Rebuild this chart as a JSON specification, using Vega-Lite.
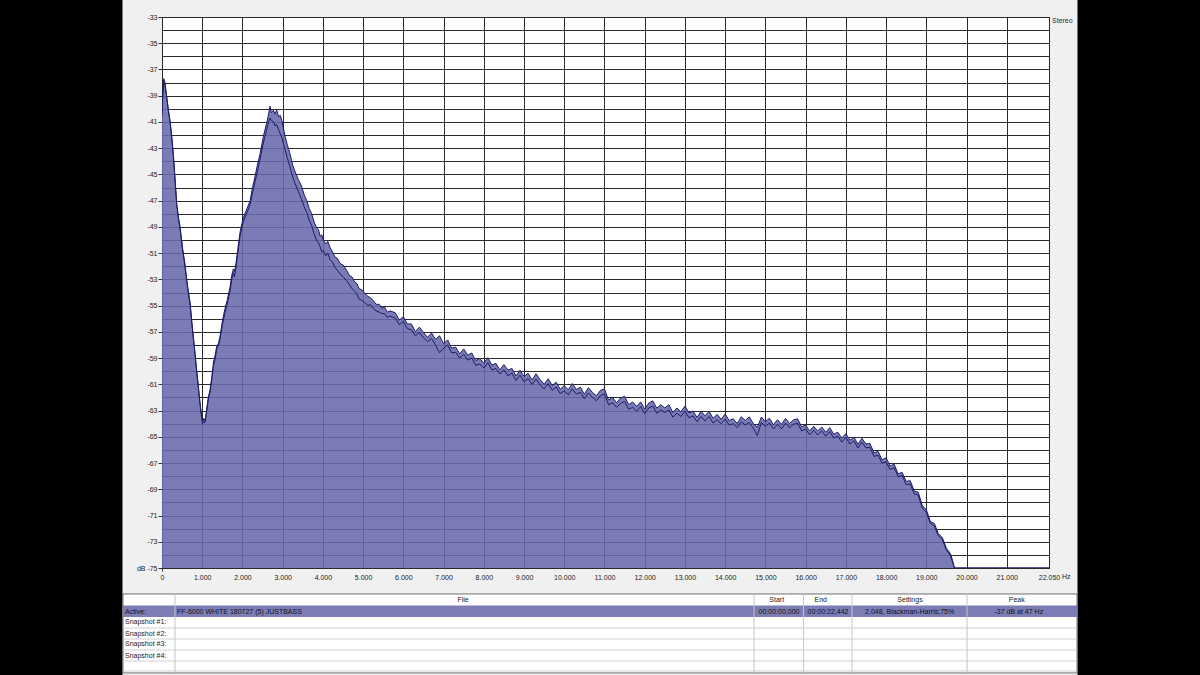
{
"$schema":"https://vega.github.io/schema/vega-lite/v6.json",
"width":887,"height":551,
"autosize":"none",
"padding":{"left":162,"top":17,"right":151,"bottom":107},
"background":"#f0f0f0",
"config":{"view":{"stroke":"#000000","strokeWidth":1,"fill":"#ffffff"},"text":{"font":"Liberation Sans"}},
"datasets":{"spec":[
{"f":0,"L":-40.3,"R":-40.5},{"f":20,"L":-38.8,"R":-39.0},{"f":43,"L":-37.7,"R":-38.0},{"f":70,"L":-37.9,"R":-38.1},{"f":110,"L":-38.9,"R":-39.0},{"f":160,"L":-40.1,"R":-40.2},{"f":200,"L":-40.9,"R":-41.0},{"f":240,"L":-42.0,"R":-42.2},{"f":280,"L":-43.4,"R":-43.5},{"f":320,"L":-45.1,"R":-45.3},{"f":365,"L":-47.2,"R":-47.3},{"f":410,"L":-48.3,"R":-48.4},{"f":450,"L":-49.0,"R":-49.2},{"f":510,"L":-50.6,"R":-50.7},{"f":570,"L":-51.8,"R":-52.0},{"f":630,"L":-53.4,"R":-53.5},{"f":700,"L":-54.8,"R":-55.0},{"f":740,"L":-56.2,"R":-56.3},{"f":780,"L":-57.4,"R":-57.5},{"f":820,"L":-58.6,"R":-58.7},{"f":860,"L":-59.9,"R":-60.0},{"f":900,"L":-61.0,"R":-61.2},{"f":945,"L":-62.4,"R":-62.5},{"f":980,"L":-63.3,"R":-63.4},{"f":1010,"L":-63.9,"R":-64.0},{"f":1040,"L":-63.6,"R":-63.9},{"f":1070,"L":-63.8,"R":-63.9},{"f":1110,"L":-62.9,"R":-63.1},{"f":1150,"L":-62.0,"R":-62.2},{"f":1195,"L":-61.4,"R":-61.6},{"f":1240,"L":-60.4,"R":-60.6},{"f":1280,"L":-59.3,"R":-59.6},{"f":1320,"L":-58.8,"R":-59.1},{"f":1360,"L":-58.1,"R":-58.3},{"f":1400,"L":-57.9,"R":-58.1},{"f":1440,"L":-57.4,"R":-57.6},{"f":1500,"L":-56.2,"R":-56.5},{"f":1560,"L":-55.3,"R":-55.6},{"f":1620,"L":-54.6,"R":-54.9},{"f":1690,"L":-53.6,"R":-53.9},{"f":1740,"L":-52.6,"R":-52.9},{"f":1775,"L":-52.2,"R":-52.5},{"f":1800,"L":-52.4,"R":-52.8},{"f":1830,"L":-52.0,"R":-52.3},{"f":1880,"L":-50.8,"R":-51.1},{"f":1940,"L":-49.4,"R":-49.7},{"f":2020,"L":-48.3,"R":-48.6},{"f":2100,"L":-47.7,"R":-48.0},{"f":2190,"L":-47.0,"R":-47.3},{"f":2250,"L":-46.0,"R":-46.4},{"f":2310,"L":-45.2,"R":-45.6},{"f":2370,"L":-44.3,"R":-44.8},{"f":2440,"L":-43.4,"R":-43.8},{"f":2520,"L":-42.1,"R":-42.6},{"f":2600,"L":-41.1,"R":-41.6},{"f":2650,"L":-40.4,"R":-41.0},{"f":2685,"L":-39.8,"R":-40.7},{"f":2720,"L":-40.3,"R":-40.9},{"f":2770,"L":-40.1,"R":-41.0},{"f":2810,"L":-40.4,"R":-41.3},{"f":2850,"L":-40.1,"R":-41.2},{"f":2900,"L":-40.6,"R":-41.6},{"f":2940,"L":-40.5,"R":-41.9},{"f":2980,"L":-40.9,"R":-42.2},{"f":3060,"L":-42.1,"R":-43.1},{"f":3120,"L":-42.8,"R":-43.8},{"f":3180,"L":-43.4,"R":-44.4},{"f":3250,"L":-44.3,"R":-45.2},{"f":3310,"L":-44.8,"R":-45.7},{"f":3390,"L":-45.4,"R":-46.3},{"f":3470,"L":-45.9,"R":-46.9},{"f":3540,"L":-46.6,"R":-47.5},{"f":3600,"L":-47.0,"R":-47.9},{"f":3660,"L":-47.6,"R":-48.5},{"f":3720,"L":-48.0,"R":-48.9},{"f":3790,"L":-48.7,"R":-49.6},{"f":3850,"L":-49.1,"R":-50.1},{"f":3890,"L":-49.2,"R":-50.2},{"f":3930,"L":-49.7,"R":-50.5},{"f":3970,"L":-49.6,"R":-50.9},{"f":4010,"L":-50.0,"R":-50.8},{"f":4070,"L":-50.3,"R":-51.2},{"f":4120,"L":-50.1,"R":-51.0},{"f":4180,"L":-50.6,"R":-51.5},{"f":4240,"L":-50.9,"R":-51.7},{"f":4300,"L":-51.3,"R":-52.1},{"f":4360,"L":-51.4,"R":-52.3},{"f":4430,"L":-51.8,"R":-52.6},{"f":4500,"L":-51.9,"R":-52.8},{"f":4590,"L":-52.3,"R":-53.1},{"f":4660,"L":-52.7,"R":-53.4},{"f":4720,"L":-52.8,"R":-53.7},{"f":4790,"L":-53.2,"R":-53.9},{"f":4840,"L":-53.3,"R":-54.1},{"f":4900,"L":-53.7,"R":-54.5},{"f":4970,"L":-53.8,"R":-54.6},{"f":5050,"L":-54.1,"R":-54.8},{"f":5120,"L":-54.3,"R":-55.0},{"f":5180,"L":-54.4,"R":-54.9},{"f":5250,"L":-54.6,"R":-55.2},{"f":5320,"L":-54.9,"R":-55.4},{"f":5400,"L":-54.9,"R":-55.5},{"f":5460,"L":-55.2,"R":-55.6},{"f":5530,"L":-55.1,"R":-55.6},{"f":5600,"L":-55.5,"R":-55.9},{"f":5670,"L":-55.4,"R":-55.8},
{"f":5800,"L":-55.55,"R":-55.95},{"f":5900,"L":-56.1,"R":-56.45},{"f":6000,"L":-55.85,"R":-56.2},{"f":6100,"L":-56.4,"R":-56.75},{"f":6200,"L":-56.4,"R":-56.85},{"f":6300,"L":-56.98,"R":-57.3},{"f":6400,"L":-56.64,"R":-57.05},{"f":6500,"L":-57.05,"R":-57.45},{"f":6600,"L":-57.42,"R":-57.75},{"f":6700,"L":-57.09,"R":-57.5},{"f":6800,"L":-57.57,"R":-58.0},{"f":6900,"L":-57.3,"R":-58.6},{"f":7000,"L":-57.9,"R":-58.25},{"f":7100,"L":-57.62,"R":-58.0},{"f":7200,"L":-58.24,"R":-58.6},{"f":7300,"L":-58.16,"R":-58.55},{"f":7400,"L":-58.68,"R":-59.0},{"f":7500,"L":-58.3,"R":-58.7},{"f":7600,"L":-58.78,"R":-59.15},{"f":7700,"L":-58.61,"R":-59.0},{"f":7800,"L":-59.19,"R":-59.55},{"f":7900,"L":-59.02,"R":-59.45},{"f":8000,"L":-59.4,"R":-59.75},{"f":8100,"L":-58.97,"R":-59.35},{"f":8200,"L":-59.54,"R":-59.9},{"f":8300,"L":-59.4,"R":-59.8},{"f":8400,"L":-59.9,"R":-60.2},{"f":8500,"L":-59.5,"R":-59.9},{"f":8600,"L":-59.92,"R":-60.35},{"f":8700,"L":-59.79,"R":-60.15},{"f":8800,"L":-60.36,"R":-60.7},{"f":8900,"L":-59.93,"R":-60.3},{"f":9000,"L":-60.4,"R":-60.8},{"f":9100,"L":-60.16,"R":-60.55},{"f":9200,"L":-60.67,"R":-61.0},{"f":9300,"L":-60.19,"R":-60.6},{"f":9400,"L":-60.65,"R":-61.05},{"f":9500,"L":-61.0,"R":-61.35},{"f":9600,"L":-60.57,"R":-60.95},{"f":9700,"L":-61.09,"R":-61.45},{"f":9800,"L":-60.84,"R":-61.2},{"f":9900,"L":-61.37,"R":-61.7},{"f":10000,"L":-61.1,"R":-61.5},{"f":10100,"L":-61.42,"R":-61.8},{"f":10200,"L":-60.94,"R":-61.35},{"f":10300,"L":-61.39,"R":-61.75},{"f":10400,"L":-61.22,"R":-61.6},{"f":10500,"L":-61.75,"R":-62.1},{"f":10600,"L":-61.26,"R":-61.65},{"f":10700,"L":-61.62,"R":-62.0},{"f":10800,"L":-61.87,"R":-62.25},{"f":10900,"L":-61.46,"R":-61.85},{"f":11000,"L":-61.35,"R":-61.75},{"f":11100,"L":-62.2,"R":-62.55},{"f":11200,"L":-62.0,"R":-62.4},{"f":11300,"L":-62.4,"R":-62.75},{"f":11400,"L":-62.05,"R":-62.45},{"f":11500,"L":-61.9,"R":-62.3},{"f":11600,"L":-62.55,"R":-62.9},{"f":11700,"L":-62.35,"R":-62.75},{"f":11800,"L":-62.68,"R":-63.05},{"f":11900,"L":-62.34,"R":-62.7},{"f":12000,"L":-62.9,"R":-63.25},{"f":12100,"L":-62.43,"R":-62.8},{"f":12200,"L":-62.26,"R":-62.65},{"f":12300,"L":-62.82,"R":-63.2},{"f":12400,"L":-62.56,"R":-62.95},{"f":12500,"L":-62.8,"R":-63.15},{"f":12600,"L":-62.55,"R":-62.95},{"f":12700,"L":-63.15,"R":-63.5},{"f":12800,"L":-62.8,"R":-63.2},{"f":12900,"L":-63.1,"R":-63.45},{"f":13000,"L":-62.65,"R":-63.05},{"f":13100,"L":-63.17,"R":-63.55},{"f":13200,"L":-63.04,"R":-63.4},{"f":13300,"L":-63.52,"R":-63.85},{"f":13400,"L":-63.06,"R":-63.45},{"f":13500,"L":-63.4,"R":-63.8},{"f":13600,"L":-63.07,"R":-63.45},{"f":13700,"L":-63.59,"R":-63.95},{"f":13800,"L":-63.29,"R":-63.7},{"f":13900,"L":-63.67,"R":-64.0},{"f":14000,"L":-63.25,"R":-63.65},{"f":14100,"L":-63.76,"R":-64.1},{"f":14200,"L":-63.62,"R":-64.0},{"f":14300,"L":-63.99,"R":-64.3},{"f":14400,"L":-63.47,"R":-63.85},{"f":14500,"L":-63.75,"R":-64.1},{"f":14600,"L":-63.48,"R":-63.9},{"f":14700,"L":-64.01,"R":-64.35},{"f":14800,"L":-64.28,"R":-64.9},{"f":14900,"L":-63.49,"R":-63.9},{"f":15000,"L":-63.85,"R":-64.2},{"f":15100,"L":-63.59,"R":-63.95},{"f":15200,"L":-64.08,"R":-64.4},{"f":15300,"L":-63.7,"R":-64.05},{"f":15400,"L":-64.05,"R":-64.4},{"f":15500,"L":-63.6,"R":-63.95},{"f":15600,"L":-63.98,"R":-64.3},{"f":15700,"L":-63.71,"R":-64.05},{"f":15800,"L":-63.63,"R":-63.95},{"f":15900,"L":-64.24,"R":-64.55},{"f":16000,"L":-64.1,"R":-64.4},{"f":16100,"L":-64.55,"R":-64.85},{"f":16200,"L":-64.2,"R":-64.5},{"f":16300,"L":-64.55,"R":-64.85},{"f":16400,"L":-64.25,"R":-64.55},{"f":16500,"L":-64.65,"R":-64.95},{"f":16600,"L":-64.3,"R":-64.6},{"f":16700,"L":-64.8,"R":-65.1},{"f":16800,"L":-64.65,"R":-64.95},{"f":16900,"L":-65.1,"R":-65.4},{"f":17000,"L":-64.75,"R":-65.05},{"f":17100,"L":-65.26,"R":-65.55},{"f":17200,"L":-65.02,"R":-65.3},{"f":17300,"L":-65.57,"R":-65.85},{"f":17400,"L":-65.11,"R":-65.4},{"f":17500,"L":-65.55,"R":-65.85},{"f":17600,"L":-65.51,"R":-65.8},{"f":17700,"L":-66.22,"R":-66.5},{"f":17800,"L":-66.1,"R":-66.4},{"f":17900,"L":-66.75,"R":-67.0},{"f":18000,"L":-66.6,"R":-66.9},{"f":18100,"L":-67.22,"R":-67.5},{"f":18200,"L":-67.09,"R":-67.35},{"f":18300,"L":-67.82,"R":-68.05},{"f":18400,"L":-67.71,"R":-67.95},{"f":18500,"L":-68.4,"R":-68.65},{"f":18600,"L":-68.34,"R":-68.6},{"f":18700,"L":-69.13,"R":-69.35},{"f":18800,"L":-69.23,"R":-69.45},{"f":18900,"L":-70.24,"R":-70.45},{"f":19000,"L":-70.55,"R":-70.75},{"f":19100,"L":-71.45,"R":-71.6},{"f":19200,"L":-71.6,"R":-71.8},{"f":19300,"L":-72.38,"R":-72.55},{"f":19400,"L":-72.69,"R":-72.85},{"f":19500,"L":-73.5,"R":-73.65},{"f":19600,"L":-73.9,"R":-74.05},{"f":19650,"L":-74.4,"R":-74.55},{"f":19700,"L":-75,"R":-75},{"f":22050,"L":-75,"R":-75}
]},
"layer":[
{"data":{"name":"spec"},"mark":{"type":"area","color":"#6969ab","fillOpacity":0.88,"clip":true},
 "encoding":{
  "x":{"field":"f","type":"quantitative","title":null,"scale":{"domain":[0,22050],"nice":false,"zero":false},
   "axis":{"values":[0,1000,2000,3000,4000,5000,6000,7000,8000,9000,10000,11000,12000,13000,14000,15000,16000,17000,18000,19000,20000,21000,22050],
    "tickCount":60,"grid":true,"gridColor":"#2a2a2a","gridWidth":1,"domain":false,"tickSize":3,"tickColor":"#333333",
    "tickOpacity":{"condition":{"test":"datum.value == 0","value":1},"value":0},
    "labelExpr":"datum.value == 0 ? '0' : format(datum.value / 1000, '.3f')",
    "labelFont":"Liberation Sans","labelFontSize":7,"labelColor":"#222222","labelPadding":2,"labelFlush":false,"labelOverlap":false,"title":null}},
  "y":{"field":"L","type":"quantitative","title":null,"scale":{"domain":[-75,-33],"nice":false,"zero":false},
   "axis":{"values":[-33,-34,-35,-36,-37,-38,-39,-40,-41,-42,-43,-44,-45,-46,-47,-48,-49,-50,-51,-52,-53,-54,-55,-56,-57,-58,-59,-60,-61,-62,-63,-64,-65,-66,-67,-68,-69,-70,-71,-72,-73,-74,-75],
    "tickCount":100,"grid":true,"gridColor":"#2a2a2a","gridWidth":1,"domain":false,"tickSize":4,"tickColor":"#333333",
    "tickOpacity":{"condition":{"test":"datum.value % 2 == 0","value":0},"value":1},
    "labelExpr":"datum.value % 2 == 0 ? '' : (datum.value == -75 ? 'dB -75' : '' + datum.value)",
    "labelFont":"Liberation Sans","labelFontSize":7,"labelColor":"#222222","labelPadding":1,"labelOverlap":false,"title":null}},
  "y2":{"datum":-75}}},
{"data":{"name":"spec"},"mark":{"type":"line","color":"#1c1c68","strokeWidth":1,"clip":true},
 "encoding":{"x":{"field":"f","type":"quantitative","title":null},"y":{"field":"R","type":"quantitative","title":null}}},
{"data":{"name":"spec"},"mark":{"type":"line","color":"#1c1c68","strokeWidth":1,"clip":true},
 "encoding":{"x":{"field":"f","type":"quantitative","title":null},"y":{"field":"L","type":"quantitative","title":null}}},
{"data":{"values":[{}]},"mark":{"type":"rect","color":"#000000","clip":false},"encoding":{"x":{"datum":-4030},"x2":{"datum":-982},"y":{"datum":-31.6},"y2":{"datum":-83.3}}},
{"data":{"values":[{}]},"mark":{"type":"rect","color":"#000000","clip":false},"encoding":{"x":{"datum":22758},"x2":{"datum":25810},"y":{"datum":-31.6},"y2":{"datum":-83.3}}},
{"data":{"values":[{}]},"mark":{"type":"rect","fill":"#ffffff","stroke":"#6e6e6e","strokeWidth":1,"clip":false},"encoding":{"x":{"datum":-969},"x2":{"datum":22746},"y":{"datum":-76.98},"y2":{"datum":-83.0}}},
{"data":{"values":[{}]},"mark":{"type":"rect","fill":"#7d7db6","clip":false},"encoding":{"x":{"datum":-969},"x2":{"datum":22746},"y":{"datum":-77.86},"y2":{"datum":-78.735}}},
{"data":{"values":[{}]},"mark":{"type":"rule","color":"#d0d0d0","clip":false},"encoding":{"x":{"datum":-969},"x2":{"datum":22746},"y":{"datum":-79.573}}},
{"data":{"values":[{}]},"mark":{"type":"rule","color":"#d0d0d0","clip":false},"encoding":{"x":{"datum":-969},"x2":{"datum":22746},"y":{"datum":-80.412}}},
{"data":{"values":[{}]},"mark":{"type":"rule","color":"#d0d0d0","clip":false},"encoding":{"x":{"datum":-969},"x2":{"datum":22746},"y":{"datum":-81.25}}},
{"data":{"values":[{}]},"mark":{"type":"rule","color":"#d0d0d0","clip":false},"encoding":{"x":{"datum":-969},"x2":{"datum":22746},"y":{"datum":-82.089}}},
{"data":{"values":[{}]},"mark":{"type":"rule","color":"#d0d0d0","clip":false},"encoding":{"x":{"datum":-969},"x2":{"datum":22746},"y":{"datum":-82.85}}},
{"data":{"values":[{}]},"mark":{"type":"rule","color":"#c8c8c8","clip":false},"encoding":{"x":{"datum":323},"y":{"datum":-76.98},"y2":{"datum":-83.0}}},
{"data":{"values":[{}]},"mark":{"type":"rule","color":"#c8c8c8","clip":false},"encoding":{"x":{"datum":14717},"y":{"datum":-76.98},"y2":{"datum":-83.0}}},
{"data":{"values":[{}]},"mark":{"type":"rule","color":"#c8c8c8","clip":false},"encoding":{"x":{"datum":15947},"y":{"datum":-76.98},"y2":{"datum":-83.0}}},
{"data":{"values":[{}]},"mark":{"type":"rule","color":"#c8c8c8","clip":false},"encoding":{"x":{"datum":17153},"y":{"datum":-76.98},"y2":{"datum":-83.0}}},
{"data":{"values":[{}]},"mark":{"type":"rule","color":"#c8c8c8","clip":false},"encoding":{"x":{"datum":20012},"y":{"datum":-76.98},"y2":{"datum":-83.0}}},
{"data":{"values":[{}]},"mark":{"type":"text","text":"Stereo","align":"left","baseline":"middle","fontSize":7,"color":"#333333","clip":false},"encoding":{"x":{"datum":22125},"y":{"datum":-33.27}}},
{"data":{"values":[{}]},"mark":{"type":"text","text":"Hz","align":"left","baseline":"middle","fontSize":7,"color":"#222222","clip":false},"encoding":{"x":{"datum":22373},"y":{"datum":-75.65}}},
{"data":{"values":[{}]},"mark":{"type":"text","text":"File","align":"center","baseline":"middle","fontSize":7,"color":"#222222","clip":false},"encoding":{"x":{"datum":7483},"y":{"datum":-77.44}}},
{"data":{"values":[{}]},"mark":{"type":"text","text":"Start","align":"center","baseline":"middle","fontSize":7,"color":"#222222","clip":false},"encoding":{"x":{"datum":15281},"y":{"datum":-77.44}}},
{"data":{"values":[{}]},"mark":{"type":"text","text":"End","align":"center","baseline":"middle","fontSize":7,"color":"#222222","clip":false},"encoding":{"x":{"datum":16375},"y":{"datum":-77.44}}},
{"data":{"values":[{}]},"mark":{"type":"text","text":"Settings","align":"center","baseline":"middle","fontSize":7,"color":"#222222","clip":false},"encoding":{"x":{"datum":18594},"y":{"datum":-77.44}}},
{"data":{"values":[{}]},"mark":{"type":"text","text":"Peak","align":"center","baseline":"middle","fontSize":7,"color":"#222222","clip":false},"encoding":{"x":{"datum":21247},"y":{"datum":-77.44}}},
{"data":{"values":[{}]},"mark":{"type":"text","text":"Active:","align":"left","baseline":"middle","fontSize":7,"color":"#111111","clip":false},"encoding":{"x":{"datum":-920},"y":{"datum":-78.316}}},
{"data":{"values":[{}]},"mark":{"type":"text","text":"Snapshot #1:","align":"left","baseline":"middle","fontSize":7,"color":"#222222","clip":false},"encoding":{"x":{"datum":-920},"y":{"datum":-79.154}}},
{"data":{"values":[{}]},"mark":{"type":"text","text":"Snapshot #2:","align":"left","baseline":"middle","fontSize":7,"color":"#222222","clip":false},"encoding":{"x":{"datum":-920},"y":{"datum":-79.993}}},
{"data":{"values":[{}]},"mark":{"type":"text","text":"Snapshot #3:","align":"left","baseline":"middle","fontSize":7,"color":"#222222","clip":false},"encoding":{"x":{"datum":-920},"y":{"datum":-80.831}}},
{"data":{"values":[{}]},"mark":{"type":"text","text":"Snapshot #4:","align":"left","baseline":"middle","fontSize":7,"color":"#222222","clip":false},"encoding":{"x":{"datum":-920},"y":{"datum":-81.67}}},
{"data":{"values":[{}]},"mark":{"type":"text","text":"FF-6000 WHITE 180727 (5) JUSTBASS","align":"left","baseline":"middle","fontSize":7,"color":"#111111","clip":false},"encoding":{"x":{"datum":373},"y":{"datum":-78.316}}},
{"data":{"values":[{}]},"mark":{"type":"text","text":"00:00:00,000","align":"center","baseline":"middle","fontSize":7,"color":"#111111","clip":false},"encoding":{"x":{"datum":15338},"y":{"datum":-78.316}}},
{"data":{"values":[{}]},"mark":{"type":"text","text":"00:00:22,442","align":"center","baseline":"middle","fontSize":7,"color":"#111111","clip":false},"encoding":{"x":{"datum":16556},"y":{"datum":-78.316}}},
{"data":{"values":[{}]},"mark":{"type":"text","text":"2.048, Blackman-Harris;75%","align":"center","baseline":"middle","fontSize":7,"color":"#111111","clip":false},"encoding":{"x":{"datum":18585},"y":{"datum":-78.316}}},
{"data":{"values":[{}]},"mark":{"type":"text","text":"-37 dB at 47 Hz","align":"center","baseline":"middle","fontSize":7,"color":"#111111","clip":false},"encoding":{"x":{"datum":21300},"y":{"datum":-78.316}}}
]
}
